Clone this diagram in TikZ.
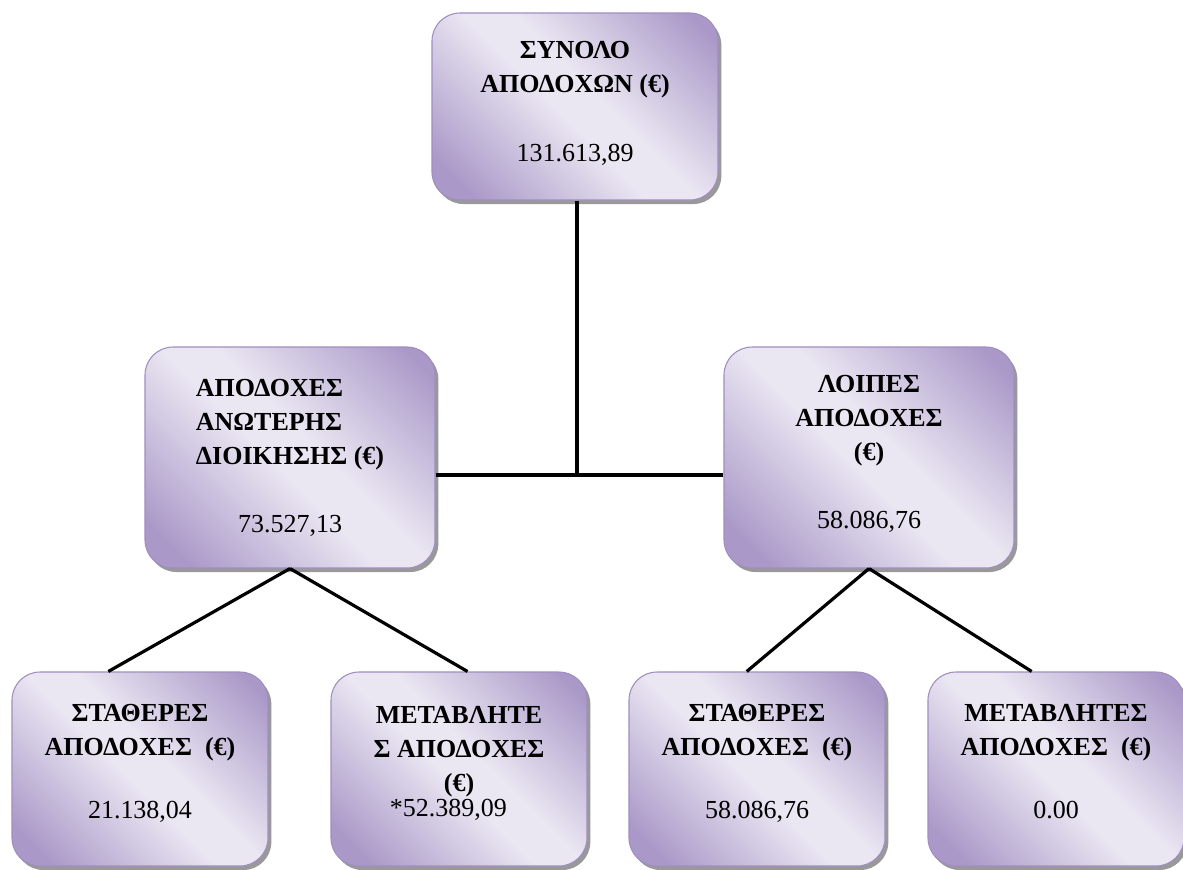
\documentclass[tikz,border=0pt]{standalone}
\usepackage{fontspec}
\setmainfont{Liberation Serif}
\usetikzlibrary{shadows}

\definecolor{lavdk}{RGB}{170,153,200}
\definecolor{lavlt}{RGB}{234,230,242}
\definecolor{lavln}{RGB}{160,142,192}
\pgfdeclarehorizontalshading{lavfill}{100bp}{color(0bp)=(lavdk); color(21bp)=(lavdk); color(47bp)=(lavlt); color(55bp)=(lavlt); color(81bp)=(lavdk); color(100bp)=(lavdk)}

\begin{document}
\begin{tikzpicture}[x=0.75pt, y=-0.75pt,
  bx/.style={draw=lavln, line width=0.8pt, rounded corners=21pt, shading=lavfill, shading angle=45,
    drop shadow={shadow xshift=2.5pt, shadow yshift=-3pt, fill=black!40, opacity=1},
    align=center, font={\fontsize{19.5}{25.5}\selectfont\bfseries}},
  tb/.style={minimum width=214.5pt, minimum height=140.25pt, execute at end node={\rule[-7.5pt]{0pt}{0pt}}},
  mb/.style={minimum width=217.5pt, minimum height=165.75pt, execute at end node={\rule[-8pt]{0pt}{0pt}}},
  bb/.style={minimum width=192pt, minimum height=145.5pt, execute at end node={\rule[-11pt]{0pt}{0pt}}},
  ln/.style={line width=2.4pt}]
\useasboundingbox (0,0) rectangle (1183,869);
% top
\node[bx, tb] (tot) at (575,106.5) {ΣΥΝΟΛΟ\\ΑΠΟΔΟΧΩΝ (€)\\[26pt]\mdseries 131.613,89};
% middle row
\node[bx, mb] (dioik) at (290,457.5) {\begin{tabular}[b]{@{}l@{}}ΑΠΟΔΟΧΕΣ\\ΑΝΩΤΕΡΗΣ\\ΔΙΟΙΚΗΣΗΣ (€)\end{tabular}\\[25.5pt]\mdseries 73.527,13};
\node[bx, mb] (loip) at (869,457.5) {ΛΟΙΠΕΣ\\ΑΠΟΔΟΧΕΣ\\(€)\\[25.5pt]\mdseries 58.086,76};
% bottom row
\node[bx, bb] (statA) at (140,769) {ΣΤΑΘΕΡΕΣ\\ΑΠΟΔΟΧΕΣ~ (€)\\[21.5pt]\mdseries 21.138,04};
\node[bx, bb] (metA) at (459,769) {ΜΕΤΑΒΛΗΤΕ\\Σ ΑΠΟΔΟΧΕΣ\\(€)\\[-6.75pt]\mdseries *52.389,09\hspace*{16pt}};
\node[bx, bb] (statB) at (757,769) {ΣΤΑΘΕΡΕΣ\\ΑΠΟΔΟΧΕΣ~ (€)\\[21.5pt]\mdseries 58.086,76};
\node[bx, bb] (metB) at (1056,769) {ΜΕΤΑΒΛΗΤΕΣ\\ΑΠΟΔΟΧΕΣ~ (€)\\[21.5pt]\mdseries 0.00};
% connectors
\coordinate (jn) at (577,475);
\draw[ln] (tot.south -| jn) -- (jn);
\draw[ln] (dioik.east |- jn) -- (loip.west |- jn);
\draw[ln] (dioik.south) -- (statA.108);
\draw[ln] (dioik.south) -- (metA.85);
\draw[ln] (loip.south) -- (statB.96);
\draw[ln] (loip.south) -- (metB.104);
\end{tikzpicture}
\end{document}
